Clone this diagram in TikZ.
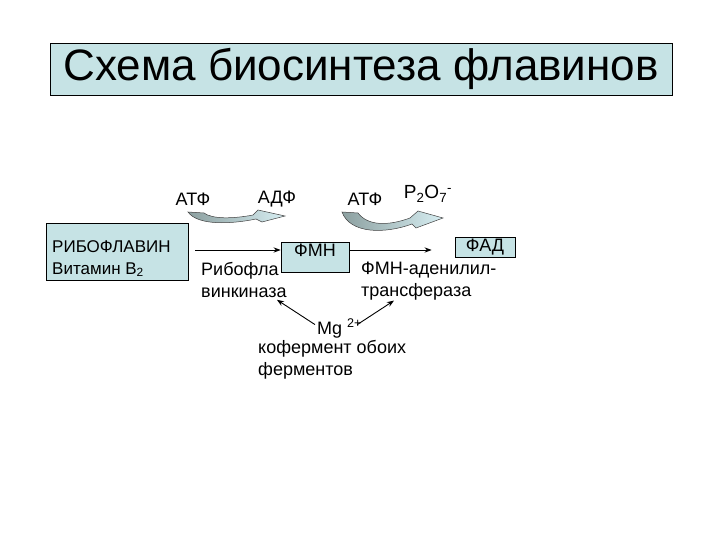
\documentclass[tikz,border=0pt]{standalone}
\usepackage{fontspec}
\setmainfont{Liberation Sans}
\setsansfont{Liberation Sans}
\usetikzlibrary{arrows.meta, positioning, calc}
\definecolor{cBox}{RGB}{198, 227, 229}
\definecolor{cSwoopA}{RGB}{140, 160, 160}
\definecolor{cSwoopB}{RGB}{215, 238, 242}
\definecolor{tDark}{RGB}{0, 0, 0}

\begin{document}
\begin{tikzpicture}[
    x=1pt, y=-1pt,
    font=\sffamily\fontsize{18}{22}\selectfont,
    >=Stealth,
    box/.style={
        draw=tDark,
        line width=0.8pt,
        fill=cBox,
        inner sep=0pt
    },
    txt/.style={align=left, inner sep=0pt, text=tDark},
    arrow/.style={->, line width=0.9pt, color=tDark},
    swoop/.style={draw=black!75, line width=0.5pt, left color=cSwoopA, right color=cSwoopB}
]
\useasboundingbox (0,0) rectangle (720,540);

\node[box, minimum width=622pt, minimum height=52pt, font=\sffamily\fontsize{44}{50}\selectfont] (title) at (361,69) {Схема биосинтеза флавинов};

% main chain
\node[box, minimum width=142pt, minimum height=57pt] (rib) at (117,251.5) {};
\node[txt, anchor=north west, font=\sffamily\fontsize{17}{22}\selectfont] (ribtext) at (52,240) {
    РИБОФЛАВИН\\
    Витамин В\textsubscript{2}
};
\node[box, minimum width=68pt, inner sep=2pt, text height=12pt, text depth=14pt] (fmn) at (315,257) {ФМН};
\node[box, minimum width=60pt, minimum height=20pt] (fad) at (485,247) {ФАД};

% cofactors
\node[txt] (atpA) at (193,199) {АТФ};
\node[txt] (adp) at (277,199) {АДФ};
\node[txt] (atpB) at (365,199) {АТФ};
\node[txt, font=\sffamily\fontsize{19}{22}\selectfont] (ppi) at (428,194) {P\textsubscript{2}O\textsubscript{7}\textsuperscript{-}};

% enzymes
\node[txt, anchor=north west] (kinase) at (201,262) {Рибофла\\винкиназа};
\node[txt, anchor=north west] (transf) at (361,262) {ФМН-аденилил-\\трансфераза};
\node[txt, anchor=north west] (mg) at (317,319) {Mg \textsuperscript{2+}};
\node[txt, anchor=north west] (coenz) at (258,340) {кофермент обоих\\ферментов};

\coordinate (a1) at ($(rib.east)+(7,-1.5)$);
\draw[arrow] (a1) -- (a1 -| fmn.west);
\draw[arrow, shorten >=23pt] ([yshift=7pt]fmn.east) -- ([yshift=7pt]fmn.east -| fad.west);

\draw[arrow] ($(mg.west)+(-2,-4)$) -- ($(kinase.south east)+(-10,2)$);
\draw[arrow] ($(mg.east)+(-5,-4)$) -- ($(transf.south west)+(33,0)$);

% curved arrows
\path[swoop] (188,212) .. controls (198,226) and (232,224) .. (256,219)
    -- (262,222) -- (285,216) -- (258,210) -- (253,215)
    .. controls (232,219) and (212,219) .. (204,213) -- cycle;
\path[swoop] (342,212) .. controls (350,234) and (385,234) .. (412,224)
    -- (416,228) -- (443,218) -- (418,211) -- (410,218)
    .. controls (388,226) and (368,226) .. (358,213) -- cycle;

\end{tikzpicture}
\end{document}
